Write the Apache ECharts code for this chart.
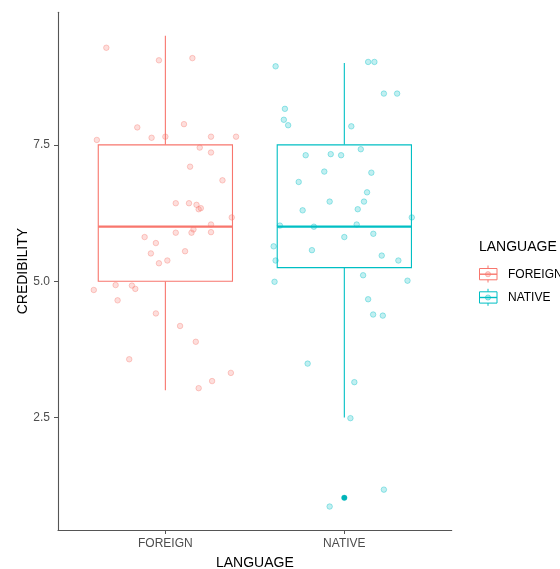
<!DOCTYPE html>
<html>
<head>
<meta charset="utf-8">
<script src="https://cdn.jsdelivr.net/npm/echarts@6/dist/echarts.min.js"></script>
<style>html,body{margin:0;padding:0;background:#fff;}#c{width:560px;height:569px;}</style>
</head>
<body>
<div id="c"></div>
<script>
// ---- data ----
const categories = ['FOREIGN', 'NATIVE'];
const yTicks = [2.5, 5.0, 7.5];
// box stats: [xPos, lowerWhisker, Q1, median, Q3, upperWhisker]
const foreignBox = [1, 3.0, 5.0, 6.0, 7.5, 9.5];
const nativeBox = [2, 2.5, 5.25, 6.0, 7.5, 9.0];
const nativeOutliers = [[2, 1.03]];
// jittered points [x, credibility]
const foreignPoints = [
  [0.67, 9.28], [0.964, 9.05], [1.151, 9.09], [0.843, 7.82], [1.104, 7.88],
  [0.617, 7.59], [0.923, 7.63], [1.0, 7.65], [1.255, 7.65], [1.395, 7.65],
  [1.192, 7.45], [1.255, 7.36], [1.138, 7.10], [1.319, 6.85], [1.058, 6.43],
  [1.132, 6.43], [1.174, 6.40], [1.186, 6.32], [1.198, 6.34], [1.371, 6.17],
  [1.255, 6.04], [1.157, 5.95], [1.146, 5.89], [1.255, 5.90], [1.058, 5.89],
  [0.884, 5.81], [0.947, 5.70], [0.919, 5.51], [1.11, 5.55], [0.964, 5.33],
  [1.011, 5.38], [0.60, 4.84], [0.722, 4.93], [0.813, 4.92], [0.832, 4.86],
  [0.733, 4.65], [0.947, 4.41], [1.082, 4.18], [1.17, 3.89], [0.798, 3.57],
  [1.366, 3.32], [1.261, 3.17], [1.186, 3.04]
];
const nativePoints = [
  [1.616, 8.94], [2.133, 9.02], [2.168, 9.02], [2.221, 8.44], [2.295, 8.44],
  [1.668, 8.16], [1.662, 7.96], [1.686, 7.86], [2.039, 7.84], [2.092, 7.42],
  [1.784, 7.31], [1.924, 7.33], [1.982, 7.31], [1.888, 7.01], [2.151, 6.99],
  [1.745, 6.82], [2.127, 6.63], [1.918, 6.46], [2.11, 6.46], [1.767, 6.30],
  [2.075, 6.32], [2.377, 6.17], [1.64, 6.02], [1.83, 6.0], [2.069, 6.04],
  [2.162, 5.87], [2.0, 5.81], [1.605, 5.64], [1.819, 5.57], [1.616, 5.38],
  [2.209, 5.47], [2.302, 5.38], [1.61, 4.99], [2.353, 5.01], [2.105, 5.11],
  [2.133, 4.67], [2.161, 4.39], [2.215, 4.37], [1.795, 3.49], [2.056, 3.15],
  [2.034, 2.49], [2.221, 1.18], [1.918, 0.87], [2.0, 1.03]
];

const FONT = '"Liberation Sans", Arial, sans-serif';
const COLORS = ['#F8766D', '#00BFC4'];
const FILLS = ['rgba(248,118,109,0.3)', 'rgba(0,191,196,0.3)'];
const RINGS = ['rgba(248,118,109,0.45)', 'rgba(0,191,196,0.45)'];

function boxRender(params, api) {
  const x = api.value(0);
  const lo = api.value(1), q1 = api.value(2), med = api.value(3), q3 = api.value(4), hi = api.value(5);
  const half = api.size([0.75, 0])[0] / 2;
  const pHi = api.coord([x, hi]);
  const pQ3 = api.coord([x, q3]);
  const pMed = api.coord([x, med]);
  const pQ1 = api.coord([x, q1]);
  const pLo = api.coord([x, lo]);
  const color = api.visual('color');
  return {
    type: 'group',
    children: [
      { type: 'line', shape: { x1: pHi[0], y1: pHi[1], x2: pQ3[0], y2: pQ3[1] }, style: { stroke: color, lineWidth: 1.1 } },
      { type: 'line', shape: { x1: pQ1[0], y1: pQ1[1], x2: pLo[0], y2: pLo[1] }, style: { stroke: color, lineWidth: 1.1 } },
      { type: 'rect', shape: { x: pQ3[0] - half, y: pQ3[1], width: half * 2, height: pQ1[1] - pQ3[1] }, style: { fill: '#fff', stroke: color, lineWidth: 1.1 } },
      { type: 'line', shape: { x1: pMed[0] - half, y1: pMed[1], x2: pMed[0] + half, y2: pMed[1] }, style: { stroke: color, lineWidth: 2.2 } }
    ]
  };
}

// legend keys (ggplot-style boxplot glyphs)
function legendKey(i) {
  const top = 263 + i * 23.3;
  const c = COLORS[i];
  return {
    type: 'group', left: 477, top: top,
    children: [
      { type: 'line', shape: { x1: 9, y1: 0, x2: 9, y2: 3 }, style: { stroke: c, lineWidth: 1 } },
      { type: 'rect', shape: { x: 0.5, y: 3, width: 17.5, height: 11.3 }, style: { fill: '#fff', stroke: c, lineWidth: 1 } },
      { type: 'line', shape: { x1: 0.5, y1: 8.7, x2: 18, y2: 8.7 }, style: { stroke: c, lineWidth: 1.4 } },
      { type: 'line', shape: { x1: 9, y1: 14.3, x2: 9, y2: 17 }, style: { stroke: c, lineWidth: 1 } },
      { type: 'circle', shape: { cx: 9, cy: 8.7, r: 2.6 }, style: { fill: FILLS[i], stroke: RINGS[i], lineWidth: 1 } },
      { type: 'text', x: 29, y: 9, style: { text: categories[i], fontFamily: FONT, fontSize: 12, fill: '#000', verticalAlign: 'middle', align: 'left' } }
    ]
  };
}

const chart = echarts.init(document.getElementById('c'), null, { renderer: 'canvas' });
chart.setOption({
  animation: false,
  backgroundColor: '#fff',
  textStyle: { fontFamily: FONT },
  title: {
    text: 'LANGUAGE', left: 474, top: 235,
    textStyle: { fontFamily: FONT, fontSize: 14, fontWeight: 'normal', color: '#000' }
  },
  graphic: [legendKey(0), legendKey(1)],
  grid: { left: 58, top: 12.3, width: 393.7, height: 517.7, containLabel: false, outerBoundsMode: 'none' },
  xAxis: {
    type: 'value', min: 0.4, max: 2.6,
    name: 'LANGUAGE', nameLocation: 'middle', nameGap: 26,
    nameTextStyle: { fontFamily: FONT, fontSize: 14, color: '#000' },
    axisLine: { show: true, lineStyle: { color: '#555', width: 1.1 } },
    axisTick: { show: true, customValues: [1, 2], length: 4, lineStyle: { color: '#555' } },
    axisLabel: {
      customValues: [1, 2], margin: 8, fontSize: 12, color: '#4d4d4d', fontFamily: FONT,
      formatter: v => categories[Math.round(v) - 1] || ''
    },
    splitLine: { show: false }
  },
  yAxis: {
    type: 'value', min: 0.44, max: 9.93,
    name: 'CREDIBILITY', nameLocation: 'middle', nameGap: 28, nameMoveOverlap: false,
    nameTextStyle: { fontFamily: FONT, fontSize: 14, color: '#000' },
    axisLine: { show: true, lineStyle: { color: '#555', width: 1.1 } },
    axisTick: { show: true, customValues: yTicks, length: 4, lineStyle: { color: '#555' } },
    axisLabel: {
      customValues: yTicks, margin: 8, fontSize: 12, color: '#4d4d4d', fontFamily: FONT,
      formatter: v => Number(v).toFixed(1)
    },
    splitLine: { show: false }
  },
  series: [
    {
      name: categories[0], type: 'custom', renderItem: boxRender, z: 1,
      itemStyle: { color: COLORS[0] },
      encode: { x: 0, y: [1, 2, 3, 4, 5] },
      data: [foreignBox]
    },
    {
      name: categories[1], type: 'custom', renderItem: boxRender, z: 1,
      itemStyle: { color: COLORS[1] },
      encode: { x: 0, y: [1, 2, 3, 4, 5] },
      data: [nativeBox]
    },
    {
      name: categories[0], type: 'scatter', z: 3, symbolSize: 5.5,
      itemStyle: { color: FILLS[0], borderColor: RINGS[0], borderWidth: 1 },
      data: foreignPoints
    },
    {
      name: categories[1], type: 'scatter', z: 3, symbolSize: 5.5,
      itemStyle: { color: FILLS[1], borderColor: RINGS[1], borderWidth: 1 },
      data: nativePoints
    },
    {
      name: categories[1] + ' outlier', type: 'scatter', z: 4, symbolSize: 5.5,
      itemStyle: { color: '#00B3B8', opacity: 1 },
      data: nativeOutliers
    }
  ]
});
</script>
</body>
</html>
